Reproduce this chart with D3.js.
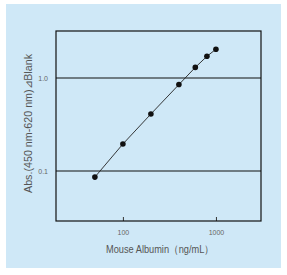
<!DOCTYPE html>
<html>
<head>
<meta charset="utf-8">
<script src="https://cdn.jsdelivr.net/npm/d3@7"></script>
<style>
  body { margin: 0; background: #fff; }
  svg { display: block; }
</style>
</head>
<body>
<svg id="chart"></svg>
<script>
// standard curve values
const concentrations = [50, 100, 200, 400, 600, 800, 1000];
const absorbances = [0.086, 0.195, 0.41, 0.85, 1.3, 1.71, 2.04];
const xTickValues = [100, 1000];
const xTickLabels = ['100', '1000'];
const yTickValues = [0.1, 1.0];
const yTickLabels = ['0.1', '1.0'];

const width = 287, height = 275;
const margin = { top: 31, right: 26, bottom: 54, left: 56 };
const innerW = width - margin.left - margin.right;
const innerH = height - margin.top - margin.bottom;
const font = 'Liberation Sans, Arial, sans-serif';

const svg = d3.select('#chart').attr('width', width).attr('height', height);

svg.append('rect')
    .attr('x', 6).attr('y', 4)
    .attr('width', 275).attr('height', 264)
    .attr('fill', '#cfe8f7');

const x = d3.scaleLog().domain([19.1, 3050]).range([0, innerW]);
const y = d3.scaleLog().domain([0.029, 3.2]).range([innerH, 0]);

const g = svg.append('g').attr('transform', 'translate(' + margin.left + ',' + margin.top + ')');

// horizontal grid lines at the y ticks
g.selectAll('.grid')
    .data(yTickValues)
    .enter().append('line')
    .attr('class', 'grid')
    .attr('x1', 0).attr('x2', innerW)
    .attr('y1', d => y(d)).attr('y2', d => y(d))
    .attr('stroke', '#111').attr('stroke-width', 1.2);

const xAxis = g.append('g')
    .attr('transform', 'translate(0,' + innerH + ')')
    .call(d3.axisBottom(x).tickValues(xTickValues)
        .tickFormat((d, i) => xTickLabels[i]).tickSizeInner(-4).tickSizeOuter(0).tickPadding(9));
xAxis.select('.domain').remove();
xAxis.selectAll('line').attr('stroke', '#333');
xAxis.selectAll('text').attr('fill', '#666').attr('font-size', 7).attr('font-family', font);

const yAxis = g.append('g')
    .call(d3.axisLeft(y).tickValues(yTickValues)
        .tickFormat((d, i) => yTickLabels[i]).tickSize(0).tickPadding(8));
yAxis.select('.domain').remove();
yAxis.selectAll('text').attr('fill', '#666').attr('font-size', 7).attr('font-family', font);

// frame
g.append('rect')
    .attr('width', innerW).attr('height', innerH)
    .attr('fill', 'none').attr('stroke', '#111').attr('stroke-width', 1.2);

const pts = concentrations.map((c, i) => [c, absorbances[i]]);

g.append('path')
    .datum(pts)
    .attr('fill', 'none').attr('stroke', '#222').attr('stroke-width', 0.9)
    .attr('d', d3.line().x(d => x(d[0])).y(d => y(d[1])));

g.selectAll('.dot')
    .data(pts)
    .enter().append('circle')
    .attr('class', 'dot')
    .attr('cx', d => x(d[0])).attr('cy', d => y(d[1]))
    .attr('r', 2.8).attr('fill', '#111');

svg.append('text')
    .attr('x', 160).attr('y', 253)
    .attr('text-anchor', 'middle')
    .attr('fill', '#555').attr('font-size', 10.5).attr('font-family', font)
    .attr('textLength', 108).attr('lengthAdjust', 'spacingAndGlyphs')
    .text('Mouse Albumin（ng/mL）');

svg.append('text')
    .attr('transform', 'translate(32,123.5) rotate(-90)')
    .attr('text-anchor', 'middle')
    .attr('fill', '#555').attr('font-size', 10).attr('font-family', font)
    .attr('textLength', 139).attr('lengthAdjust', 'spacingAndGlyphs')
    .text('Abs.(450 nm-620 nm)⊿Blank');
</script>
</body>
</html>
